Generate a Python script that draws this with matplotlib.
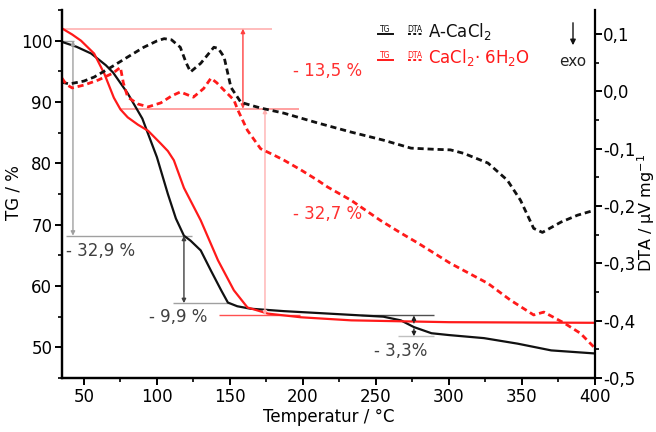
import matplotlib
matplotlib.use("Agg")
import matplotlib.pyplot as plt
from matplotlib.ticker import MultipleLocator, FuncFormatter
from matplotlib.lines import Line2D

plt.rcParams['font.family'] = ['DejaVu Sans']

# ---------------- data ----------------
tg_a_T = [35, 45, 55, 65, 70, 80, 90, 100, 107.5, 113, 118.5, 123, 130, 137, 144, 148.6,
          155, 164, 187, 210, 255, 267, 276, 288, 300, 324, 347, 370, 400]
tg_a = [99.8, 99.0, 97.9, 96.0, 94.8, 91.4, 87.3, 81.0, 75.0, 71.0, 68.2, 67.4, 65.8, 62.5,
        59.3, 57.3, 56.7, 56.3, 55.9, 55.6, 55.0, 54.4, 53.3, 52.3, 52.0, 51.5, 50.6, 49.5, 49.0]

tg_h_T = [35, 42, 48, 57, 64, 70.5, 75, 80, 87, 94, 102.7, 107.5, 111.6, 118.5, 130, 141.8,
          152.7, 162, 176, 198.6, 233, 300, 400]
tg_h = [102.0, 101.0, 100.0, 97.9, 94.6, 90.7, 88.8, 87.5, 86.3, 85.3, 83.2, 82.0, 80.5, 76.0,
        70.7, 64.2, 59.3, 56.5, 55.5, 54.9, 54.4, 54.1, 54.0]

dta_a_T = [35, 40, 50, 57, 68.5, 80, 91, 100, 105, 110, 116, 120, 123, 130, 139, 142, 146,
           150.7, 157.5, 164, 171, 187, 210, 233, 255, 274, 290, 301, 310, 326.7, 340, 349,
           358, 364, 376.7, 388, 400]
dta_a = [0.016, 0.013, 0.018, 0.025, 0.042, 0.060, 0.077, 0.088, 0.092, 0.090, 0.077, 0.050,
         0.034, 0.049, 0.077, 0.075, 0.060, 0.007, -0.019, -0.024, -0.029, -0.038, -0.055,
         -0.071, -0.085, -0.099, -0.101, -0.102, -0.108, -0.125, -0.155, -0.190, -0.239,
         -0.246, -0.228, -0.216, -0.207]

dta_h_T = [35, 38, 42, 50, 60, 70, 75, 77, 80, 87, 94, 102.7, 110, 116, 125, 132, 137, 141,
           146, 152.7, 155.5, 162, 171, 180, 187, 198.6, 210, 217, 233, 253, 267, 279, 301,
           326.7, 342, 358, 365, 378.8, 390, 400]
dta_h = [0.023, 0.012, 0.006, 0.011, 0.020, 0.032, 0.042, 0.015, -0.010, -0.022, -0.027,
         -0.020, -0.008, -0.001, -0.010, 0.005, 0.023, 0.015, 0.002, -0.015, -0.033, -0.068,
         -0.100, -0.111, -0.120, -0.137, -0.155, -0.167, -0.190, -0.225, -0.247, -0.265,
         -0.300, -0.335, -0.364, -0.390, -0.385, -0.404, -0.422, -0.448]

x_ticks = [50, 100, 150, 200, 250, 300, 350, 400]
tg_ticks = [50, 60, 70, 80, 90, 100]
dta_ticks = [-0.5, -0.4, -0.3, -0.2, -0.1, 0.0, 0.1]

RED = '#ff1a1a'
GRAY = '#a0a0a0'

# ---------------- figure ----------------
W, H = 656, 432
fig = plt.figure(figsize=(W / 100, H / 100), dpi=100)
ax = fig.add_axes([62 / W, 1 - 378 / H, (595 - 62) / W, (378 - 10) / H])
ax2 = ax.twinx()

ax.set_xlim(35, 400)
ax.set_ylim(45, 105)
ax2.set_ylim(-0.5, 0.142)

ax2.plot(dta_a_T, dta_a, color='#111111', lw=2.0, ls=(0, (2.2, 1.4)))
ax2.plot(dta_h_T, dta_h, color=RED, lw=2.0, ls=(0, (2.2, 1.4)))
ax.plot(tg_a_T, tg_a, color='#111111', lw=1.6)
ax.plot(tg_h_T, tg_h, color=RED, lw=1.6)

for a in (ax, ax2):
    a.spines['top'].set_visible(False)
    for s in a.spines.values():
        s.set_linewidth(1.6)
ax.spines['right'].set_visible(False)

ax.set_xticks(x_ticks)
ax.xaxis.set_minor_locator(MultipleLocator(25))
ax.set_yticks(tg_ticks)
ax.yaxis.set_minor_locator(MultipleLocator(5))
ax2.set_yticks(dta_ticks)
ax2.yaxis.set_minor_locator(MultipleLocator(0.05))
ax2.yaxis.set_major_formatter(FuncFormatter(lambda v, p: ('%.1f' % v).replace('.', ',').replace('-0,0', '0,0')))

for a in (ax, ax2):
    a.tick_params(which='major', direction='out', length=5, width=1.4, labelsize=12, pad=2)
    a.tick_params(which='minor', direction='out', length=3, width=1.2)
ax2.tick_params(which='major', pad=1)

ax.set_xlabel('Temperatur / °C', fontsize=12, labelpad=2)

def fx(px):
    return px / W

def fy(py):
    return 1 - py / H

fig.text(fx(14), fy(193), 'TG / %', fontsize=12, rotation=90, ha='center', va='center')
fig.text(fx(646), fy(213), 'DTA / µV mg$^{-1}$', fontsize=11.5, rotation=90,
         ha='center', va='center')

# ---------------- annotations (TG axis) ----------------
def hline(y, x0, x1, color, lw=1.0):
    ax.plot([x0, x1], [y, y], color=color, lw=lw, solid_capstyle='butt', zorder=1)

def varrow(x, y0, y1, color, lw=1.0):
    ax.annotate('', xy=(x, y1), xytext=(x, y0),
                arrowprops=dict(arrowstyle='<|-|>', color=color, lw=lw,
                                mutation_scale=6, shrinkA=0, shrinkB=0))

# black/gray annotations
hline(100.0, 35, 43, GRAY)
hline(68.2, 38, 124, GRAY)
varrow(42.5, 100.0, 68.2, GRAY)
hline(57.2, 111, 150, GRAY)
varrow(118.5, 68.2, 57.2, '#404040')
ax.text(38, 65.7, '- 32,9 %', fontsize=12, color='#404040', ha='left', va='center')
ax.text(114.7, 54.9, '- 9,9 %', fontsize=12, color='#404040', ha='center', va='center')

hline(55.2, 240, 290, '#505050')
hline(51.8, 265, 290, '#c0c0c0')
ax.annotate('', xy=(276, 55.2), xytext=(276, 54.0),
            arrowprops=dict(arrowstyle='-|>', color='#202020', lw=1.0, mutation_scale=6,
                            shrinkA=0, shrinkB=0))
ax.annotate('', xy=(276, 51.8), xytext=(276, 53.0),
            arrowprops=dict(arrowstyle='-|>', color='#202020', lw=1.0, mutation_scale=6,
                            shrinkA=0, shrinkB=0))
ax.text(267, 49.35, '- 3,3%', fontsize=12, color='#404040', ha='center', va='center')

# red annotations
hline(101.95, 35, 179, '#ffb0b0', lw=1.2)
hline(88.9, 75, 197, '#ff9090', lw=1.2)
varrow(158.9, 101.95, 88.9, '#ff4040')
varrow(174, 88.9, 55.2, '#ffb0b0')
hline(55.2, 142.5, 198, '#ff5050', lw=1.0)
ax.text(217, 95.1, '- 13,5 %', fontsize=12, color='#ff3030', ha='center', va='center')
ax.text(217, 71.8, '- 32,7 %', fontsize=12, color='#ff3030', ha='center', va='center')

# ---------------- legend ----------------
for row, (py, col, label) in enumerate([(32, '#111111', 'A-CaCl$_2$'),
                                         (58, RED, 'CaCl$_2$· 6H$_2$O')]):
    fig.text(fx(385), fy(py), 'TG', fontsize=5.5, color=col, ha='center', va='baseline')
    fig.text(fx(415), fy(py), 'DTA', fontsize=5.5, color=col, ha='center', va='baseline')
    fig.add_artist(Line2D([fx(378), fx(393)], [fy(py + 2), fy(py + 2)], color=col, lw=1.4,
                          transform=fig.transFigure))
    fig.add_artist(Line2D([fx(408), fx(423)], [fy(py + 2), fy(py + 2)], color=col, lw=1.4,
                          ls=(0, (1.5, 1.2)), transform=fig.transFigure))
    fig.text(fx(428), fy(py), label, fontsize=12, color=col, ha='left', va='center')

fig.add_artist(matplotlib.patches.FancyArrowPatch((fx(573), fy(20)), (fx(573), fy(48)),
               transform=fig.transFigure, arrowstyle='-|>', mutation_scale=8,
               color='#111111', lw=1.0))
fig.text(fx(573), fy(61), 'exo', fontsize=11, color='#222222', ha='center', va='center')

fig.savefig('out.png', dpi=100)
